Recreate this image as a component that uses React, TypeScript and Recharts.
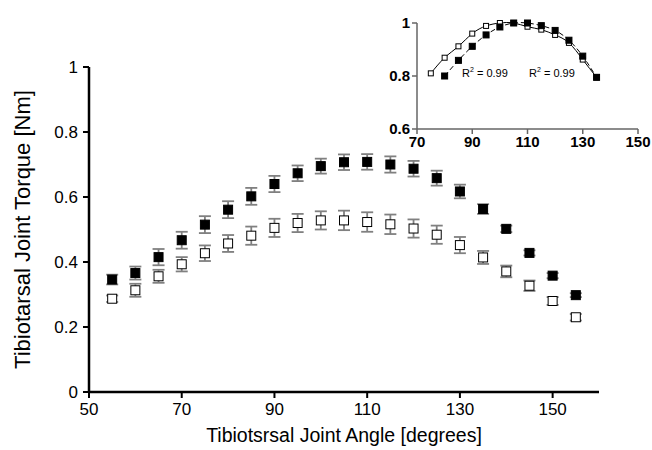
import React from 'react';
import {
  ScatterChart, Scatter, XAxis, YAxis, ErrorBar, ComposedChart, Line,
} from 'recharts';

const angles = [55, 60, 65, 70, 75, 80, 85, 90, 95, 100, 105, 110, 115, 120, 125, 130, 135, 140, 145, 150, 155];
const filledTorque = [0.346, 0.366, 0.415, 0.467, 0.515, 0.561, 0.602, 0.64, 0.673, 0.695, 0.707, 0.708, 0.7, 0.687, 0.658, 0.617, 0.563, 0.502, 0.428, 0.358, 0.298];
const filledErr = [0.015, 0.02, 0.025, 0.026, 0.026, 0.026, 0.026, 0.025, 0.024, 0.023, 0.024, 0.024, 0.025, 0.024, 0.023, 0.021, 0.015, 0.01, 0.008, 0.008, 0.006];
const openTorque = [0.287, 0.313, 0.356, 0.393, 0.427, 0.457, 0.481, 0.505, 0.52, 0.528, 0.528, 0.523, 0.516, 0.503, 0.484, 0.452, 0.414, 0.371, 0.327, 0.28, 0.23];
const openErr = [0.01, 0.02, 0.02, 0.022, 0.024, 0.026, 0.028, 0.028, 0.028, 0.028, 0.03, 0.03, 0.03, 0.028, 0.028, 0.025, 0.02, 0.018, 0.016, 0.012, 0.01];

const insetAngles = [75, 80, 85, 90, 95, 100, 105, 110, 115, 120, 125, 130, 135];
const insetOpen = [0.81, 0.869, 0.912, 0.96, 0.989, 1.0, 1.0, 0.986, 0.975, 0.955, 0.925, 0.862, 0.795];
const insetFilled = [null, 0.8, 0.859, 0.912, 0.955, 0.985, 1.0, 1.0, 0.99, 0.972, 0.935, 0.875, 0.795];

const mainXTicks = [50, 70, 90, 110, 130, 150];
const mainYTicks = [0, 0.2, 0.4, 0.6, 0.8, 1];
const insetXTicks = [70, 90, 110, 130, 150];
const insetYTicks = [0.6, 0.8, 1];

const filledData = angles.map((x, i) => ({ x, y: filledTorque[i], err: filledErr[i] }));
const openData = angles.map((x, i) => ({ x, y: openTorque[i], err: openErr[i] }));
const insetData = insetAngles.map((x, i) => ({ x, open: insetOpen[i], filled: insetFilled[i] }));

const FONT = '"Liberation Sans", Arial, sans-serif';

const square = (fill: string, size: number) => (props: any) => {
  const { cx, cy } = props;
  if (cx == null || cy == null) return <g />;
  return (
    <rect x={cx - size / 2} y={cy - size / 2} width={size} height={size}
      fill={fill} stroke="#000" strokeWidth={1} />
  );
};

const fmt = (v: number) => (v === 0 || v === 1 ? String(v) : v.toFixed(1));

export default function App() {
  return (
    <div style={{ position: 'absolute', left: 0, top: 0, width: 652, height: 450, background: '#fff', fontFamily: FONT }}>
      <ScatterChart width={652} height={450} margin={{ top: 67, right: 53, left: 0, bottom: 0 }}>
        <XAxis type="number" dataKey="x" domain={[50, 160]} ticks={mainXTicks} height={58}
          axisLine={{ stroke: '#000', strokeWidth: 2.5 }} tickLine={{ stroke: '#000', strokeWidth: 2 }} tickSize={6} tickMargin={5}
          tick={{ fill: '#000', fontSize: 17, fontFamily: FONT }}
          label={{ value: 'Tibiotsrsal Joint Angle [degrees]', position: 'insideBottom', offset: 8, fill: '#000', fontSize: 19.5, fontFamily: FONT }} />
        <YAxis type="number" dataKey="y" domain={[0, 1]} ticks={mainYTicks} width={89} tickFormatter={fmt}
          axisLine={{ stroke: '#000', strokeWidth: 2.5 }} tickLine={{ stroke: '#000', strokeWidth: 2 }} tickSize={6} tickMargin={5}
          tick={{ fill: '#000', fontSize: 17, fontFamily: FONT }}
          label={{ value: 'Tibiotarsal Joint Torque [Nm]', angle: -90, position: 'insideLeft', offset: 22, fill: '#000', fontSize: 22, fontFamily: FONT, style: { textAnchor: 'middle' } }} />
        <Scatter data={openData} shape={square('#fff', 9)} isAnimationActive={false}>
          <ErrorBar dataKey="err" direction="y" width={6} stroke="#808080" strokeWidth={1.8} />
        </Scatter>
        <Scatter data={filledData} shape={square('#000', 9)} isAnimationActive={false}>
          <ErrorBar dataKey="err" direction="y" width={6} stroke="#808080" strokeWidth={1.8} />
        </Scatter>
      </ScatterChart>

      <div style={{ position: 'absolute', left: 380, top: 0 }}>
        <ComposedChart width={272} height={160} data={insetData} margin={{ top: 23, right: 14, left: 0, bottom: 0 }}>
          <XAxis type="number" dataKey="x" domain={[70, 150]} ticks={insetXTicks} height={31}
            axisLine={{ stroke: '#666', strokeWidth: 1.5 }} tickLine={{ stroke: '#666', strokeWidth: 1.5 }} tickSize={5}
            tick={{ fill: '#000', fontSize: 15, fontWeight: 'bold', fontFamily: FONT }} />
          <YAxis type="number" domain={[0.6, 1]} ticks={insetYTicks} width={37} tickFormatter={fmt}
            axisLine={{ stroke: '#666', strokeWidth: 1.5 }} tickLine={{ stroke: '#666', strokeWidth: 1.5 }} tickSize={5}
            tick={{ fill: '#000', fontSize: 15, fontWeight: 'bold', fontFamily: FONT }} />
          <Line type="natural" dataKey="open" stroke="#000" strokeWidth={1} dot={square('#fff', 5)} activeDot={false} isAnimationActive={false} />
          <Line type="natural" dataKey="filled" stroke="#000" strokeWidth={1} strokeDasharray="5 3" connectNulls dot={square('#000', 6)} activeDot={false} isAnimationActive={false} />
        </ComposedChart>
      </div>

      <div style={{ position: 'absolute', left: 462, top: 66, fontSize: 11, color: '#000' }}>
        R<sup style={{ fontSize: 7 }}>2</sup> = 0.99
      </div>
      <div style={{ position: 'absolute', left: 529, top: 66, fontSize: 11, color: '#000' }}>
        R<sup style={{ fontSize: 7 }}>2</sup> = 0.99
      </div>
    </div>
  );
}
